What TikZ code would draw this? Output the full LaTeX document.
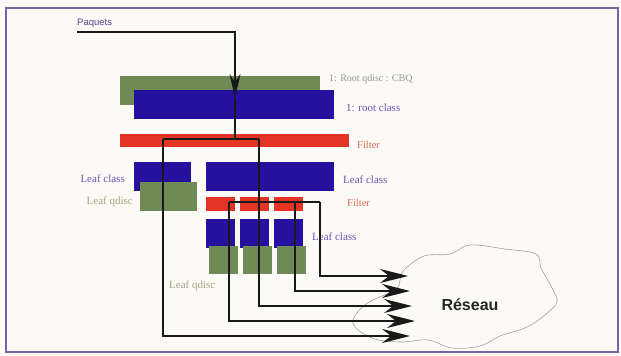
\documentclass[tikz,border=0pt]{standalone}
\usepackage{fontspec}
\setmainfont{Liberation Serif}
\newfontfamily\sansfont{Liberation Sans}
\usetikzlibrary{arrows.meta,positioning}
\definecolor{qgreen}{RGB}{112,138,86}
\definecolor{qblue}{RGB}{38,16,158}
\definecolor{qred}{RGB}{228,52,38}
\definecolor{qpurple}{RGB}{112,84,184}
\definecolor{qgray}{RGB}{150,150,145}
\definecolor{qolive}{RGB}{165,165,130}
\definecolor{qsalmon}{RGB}{224,105,85}
\definecolor{qframe}{RGB}{120,96,172}
\definecolor{qpaper}{RGB}{251,250,247}
\tikzset{
  bar/.style={anchor=north west, inner sep=0pt, outer sep=0pt},
  qdisc/.style={bar, fill=qgreen},
  qclass/.style={bar, fill=qblue},
  qfilter/.style={bar, fill=qred},
  lbl/.style={inner sep=0pt, font=\fontsize{11}{12}\selectfont},
  wire/.style={line width=1.6pt, draw=black!90},
  bigtip/.style={-{Stealth[length=28pt,width=14pt]}}
}
\begin{document}
\begin{tikzpicture}[x=1pt,y=-1pt]
  \useasboundingbox (0,0) rectangle (621,356);
  \fill[qpaper] (0,0) rectangle (621,356);
  \draw[qframe, line width=1.5pt] (6,8) rectangle (618,352);

  % root
  \node[qdisc, minimum width=200, minimum height=29] (rootq) at (120,76) {};
  \node[qclass, minimum width=200, minimum height=29] (rootc) at (134,90) {};
  \node[qfilter, minimum width=229, minimum height=13] (rootf) at (120,134) {};

  % first level
  \node[qclass, minimum width=57, minimum height=29] (leafcA) at (134,162) {};
  \node[qclass, minimum width=128, minimum height=29] (leafcB) at (206,162) {};
  \node[qdisc, minimum width=57, minimum height=29] (leafqA) at (140,182) {};

  % second level
  \foreach \i/\x in {1/206,2/240,3/274}{
    \node[qfilter, minimum width=29, minimum height=14] (subf\i) at (\x,197) {};
    \node[qclass, minimum width=29, minimum height=29] (subc\i) at (\x,219) {};
    \node[qdisc, minimum width=29, minimum height=28] (subq\i) at (\x+3,246) {};
  }

  % labels
  \node[lbl, anchor=west, text=qgray, font=\fontsize{10}{12}\selectfont] (trootq) at (329,79) {1: Root qdisc : CBQ};
  \node[lbl, anchor=west, text=qpurple] (trootc) at (346,108) {1: root class};
  \node[lbl, anchor=west, text=qsalmon, font=\fontsize{10.5}{12}\selectfont] (trootf) at (357,145) {Filter};
  \node[lbl, anchor=east, text=qpurple] (tleafcA) at (125,179) {Leaf class};
  \node[lbl, anchor=west, text=qpurple] (tleafcB) at (343,180) {Leaf class};
  \node[lbl, anchor=east, text=qolive] (tleafqA) at (133,202) {Leaf qdisc};
  \node[lbl, anchor=west, text=qsalmon, font=\fontsize{10.5}{12}\selectfont] (tsubf) at (347,203) {Filter};
  \node[lbl, anchor=west, text=qpurple] (tsubc) at (312,237) {Leaf class};
  \node[lbl, anchor=west, text=qolive] (tsubq) at (169,286) {Leaf qdisc};
  \node[lbl, anchor=west, text=qpurple!80!black, font=\sansfont\fontsize{9.5}{11}\selectfont] (tpaq) at (77,23) {Paquets};

  % network cloud
  \draw[gray!75, line width=0.6pt] plot[smooth cycle, tension=0.6] coordinates {
    (404,270) (424,256) (450,254) (470,245) (505,249) (536,254)
    (541,268) (552,288) (557,302) (546,314) (527,327) (500,336)
    (480,346) (452,348) (428,340) (400,342) (372,338) (353,323)
    (366,304) (395,290) (400,280)};
  \node[font=\sansfont\bfseries\fontsize{16}{18}\selectfont, text=black!85] (net) at (470,305) {Réseau};

  % junctions
  \coordinate (pin) at (77,32);
  \coordinate (pend) at (235,98);
  \coordinate (split) at (235,139);
  \coordinate (sL) at (163,139);
  \coordinate (sR) at (259,139);
  \coordinate (fj) at (259,202);
  \coordinate (f1) at (229,202);
  \coordinate (f3) at (295,202);
  \coordinate (f4) at (320,202);
  \coordinate (a1) at (408,276);
  \coordinate (a2) at (410,291);
  \coordinate (a3) at (412,306);
  \coordinate (a4) at (415,321);
  \coordinate (a5) at (410,336);

  % packets path
  \draw[wire, -{Stealth[length=24pt,width=11pt]}] (pin) -| (pend);
  \draw[wire] (pend) -- (split);
  \draw[wire] (sL) -- (sR);
  \draw[wire] (sR) -- (fj);
  \draw[wire] (f1) -- (f4);
  \draw[wire, bigtip] (f4) |- (a1);
  \draw[wire, bigtip] (f3) |- (a2);
  \draw[wire, bigtip] (fj) |- (a3);
  \draw[wire, bigtip] (f1) |- (a4);
  \draw[wire, bigtip] (sL) |- (a5);
\end{tikzpicture}
\end{document}
